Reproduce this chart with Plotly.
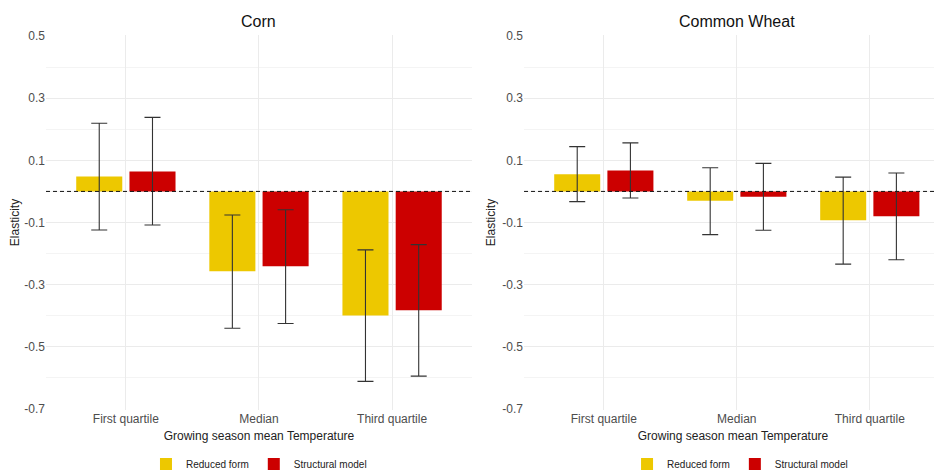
import plotly.graph_objects as go

categories = ["First quartile", "Median", "Third quartile"]
series_names = ["Reduced form", "Structural model"]
series_colors = ["#EDC800", "#CC0000"]

# Corn
corn_reduced = [0.048, -0.257, -0.399]
corn_reduced_hi = [0.219, -0.076, -0.188]
corn_reduced_lo = [-0.124, -0.440, -0.611]
corn_struct = [0.064, -0.241, -0.382]
corn_struct_hi = [0.238, -0.059, -0.171]
corn_struct_lo = [-0.108, -0.425, -0.594]

# Common Wheat
wheat_reduced = [0.055, -0.030, -0.093]
wheat_reduced_hi = [0.144, 0.076, 0.046]
wheat_reduced_lo = [-0.033, -0.139, -0.234]
wheat_struct = [0.067, -0.017, -0.080]
wheat_struct_hi = [0.156, 0.090, 0.059]
wheat_struct_lo = [-0.021, -0.125, -0.220]

panel_titles = ["Corn", "Common Wheat"]
y_ticks = [0.5, 0.3, 0.1, -0.1, -0.3, -0.5, -0.7]
y_minor = [0.4, 0.2, 0.0, -0.2, -0.4, -0.6]

FONT = "Liberation Sans, Arial, sans-serif"

fig = go.Figure()

panels = [
    ("x", "y", "legend", [(corn_reduced, corn_reduced_hi, corn_reduced_lo),
                          (corn_struct, corn_struct_hi, corn_struct_lo)]),
    ("x2", "y2", "legend2", [(wheat_reduced, wheat_reduced_hi, wheat_reduced_lo),
                             (wheat_struct, wheat_struct_hi, wheat_struct_lo)]),
]

for xa, ya, lg, series in panels:
    for (vals, hi, lo), name, col in zip(series, series_names, series_colors):
        fig.add_trace(go.Bar(
            x=categories, y=vals, name=name, marker_color=col,
            marker_line_width=0,
            xaxis=xa, yaxis=ya, legend=lg,
            error_y=dict(type="data", symmetric=False,
                         array=[h - v for h, v in zip(hi, vals)],
                         arrayminus=[v - l for v, l in zip(vals, lo)],
                         color="#333333", thickness=1.1, width=8),
        ))

axis_common_y = dict(
    range=[-0.703, 0.503], tickvals=y_ticks, ticktext=[f"{t:.1f}" for t in y_ticks],
    showgrid=True, gridcolor="#EBEBEB", gridwidth=1, zeroline=False,
    ticks="", tickfont=dict(size=12, color="#4D4D4D", family=FONT),
    minor=dict(tickvals=y_minor, showgrid=True, gridcolor="#F4F4F4", gridwidth=1),
    title=dict(text="Elasticity", font=dict(size=12, color="#222222", family=FONT), standoff=4),
    showline=False,
)
axis_common_x = dict(
    showgrid=True, gridcolor="#EBEBEB", gridwidth=1, zeroline=False, ticks="",
    tickfont=dict(size=12, color="#4D4D4D", family=FONT),
    title=dict(text="Growing season mean Temperature",
               font=dict(size=12, color="#222222", family=FONT), standoff=6),
    showline=False,
)

# The page body adds an 8px offset, so the figure is 8px smaller than the window.
fig.update_layout(
    width=934, height=463,
    margin=dict(l=38, r=0, t=27, b=61, autoexpand=False),
    paper_bgcolor="white", plot_bgcolor="white",
    font=dict(family=FONT),
    barmode="group", bargap=0.2, bargroupgap=0.135,
    xaxis=dict(domain=[0, 0.4754], range=[-0.6, 2.6], anchor="y", **axis_common_x),
    yaxis=dict(domain=[0, 1], anchor="x", **axis_common_y),
    xaxis2=dict(domain=[0.5335, 1], range=[-0.6, 2.543], anchor="y2", **axis_common_x),
    yaxis2=dict(domain=[0, 1], anchor="x2", **axis_common_y),
    legend=dict(orientation="h", x=0.2377, xanchor="center", y=-0.144, yanchor="middle",
                font=dict(size=10, color="#222222", family=FONT), traceorder="normal"),
    legend2=dict(orientation="h", x=0.7746, xanchor="center", y=-0.144, yanchor="middle",
                 font=dict(size=10, color="#222222", family=FONT), traceorder="normal"),
    showlegend=True,
)

for xa, ya in [("x", "y"), ("x2", "y2")]:
    fig.add_shape(type="line", xref=f"{xa} domain", yref=ya, x0=0, x1=1, y0=0, y1=0,
                  line=dict(color="#111111", width=1, dash="4px,3px"), layer="above")

for i, xa in enumerate(["x", "x2"]):
    fig.add_annotation(text=panel_titles[i], xref=xa, yref="paper", x=1, y=1,
                       yshift=14, yanchor="middle", showarrow=False,
                       font=dict(size=16, color="#111111", family=FONT))

fig.write_html("out.html")
